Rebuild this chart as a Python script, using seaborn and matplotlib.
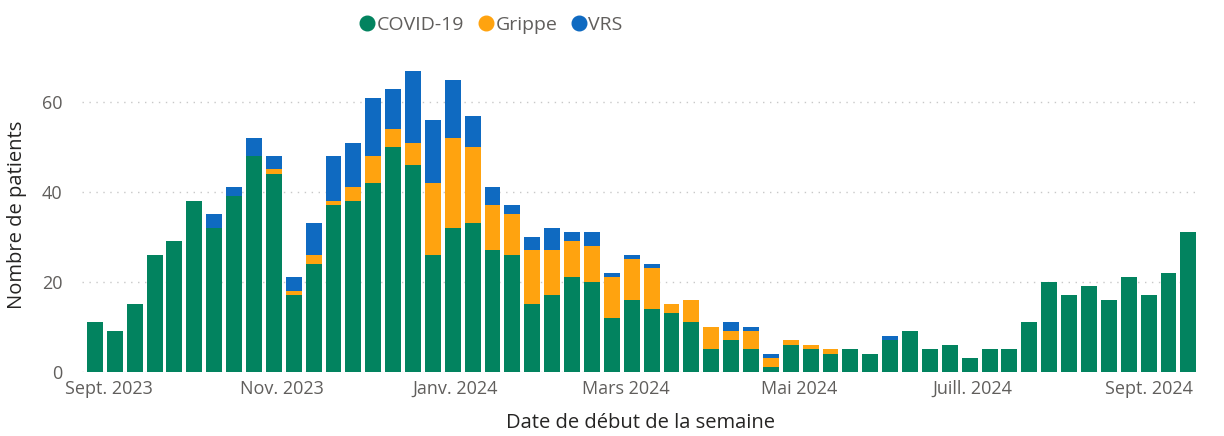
import pandas as pd
import numpy as np
import matplotlib
matplotlib.use('Agg')
import matplotlib.pyplot as plt
from matplotlib.lines import Line2D
import seaborn as sns

# --- Données (patients par semaine, lecture du graphique) ---
debut = "2023-08-27"
nb_semaines = 56
covid = [11, 9, 15, 26, 29, 38, 32, 39, 48, 44, 17, 24, 37, 38, 42, 50, 46, 26, 32, 33,
         27, 26, 15, 17, 21, 20, 12, 16, 14, 13, 11, 5, 7, 5, 1, 6, 5, 4, 5, 4,
         7, 9, 5, 6, 3, 5, 5, 11, 20, 17, 19, 16, 21, 17, 22, 31]
grippe = [0, 0, 0, 0, 0, 0, 0, 0, 0, 1, 1, 2, 1, 3, 6, 4, 5, 16, 20, 17,
          10, 9, 12, 10, 8, 8, 9, 9, 9, 2, 5, 5, 2, 4, 2, 1, 1, 1, 0, 0,
          0, 0, 0, 0, 0, 0, 0, 0, 0, 0, 0, 0, 0, 0, 0, 0]
vrs = [0, 0, 0, 0, 0, 0, 3, 2, 4, 3, 3, 7, 10, 10, 13, 9, 16, 14, 13, 7,
       4, 2, 3, 5, 2, 3, 1, 1, 1, 0, 0, 0, 2, 1, 1, 0, 0, 0, 0, 0,
       1, 0, 0, 0, 0, 0, 0, 0, 0, 0, 0, 0, 0, 0, 0, 0]
mois_ticks = ["2023-09-01", "2023-11-01", "2024-01-01", "2024-03-01",
              "2024-05-01", "2024-07-01", "2024-09-01"]
mois_labels = ["Sept. 2023", "Nov. 2023", "Janv. 2024", "Mars 2024",
               "Mai 2024", "Juill. 2024", "Sept. 2024"]

semaines = pd.date_range(debut, periods=nb_semaines, freq="7D")
df = pd.DataFrame({"semaine": semaines.strftime("%Y-%m-%d"),
                   "covid": covid, "grippe": grippe, "vrs": vrs})
df["cg"] = df["covid"] + df["grippe"]
df["total"] = df["cg"] + df["vrs"]

VERT, ORANGE, BLEU = "#02835F", "#FFA30F", "#0F6AC1"
GRIS_TXT, FONCE = "#605E5C", "#252423"

sns.set_theme(style="white")
plt.rcParams['font.family'] = ['Open Sans', 'DejaVu Sans']

fig = plt.figure(figsize=(12.24, 4.36), dpi=100)
ax = fig.add_axes([0.067, 0.1475, 0.912, 0.7215])

# empilement : total (bleu), covid+grippe (orange), covid (vert)
for col, couleur in [("total", BLEU), ("cg", ORANGE), ("covid", VERT)]:
    sns.barplot(data=df, x="semaine", y=col, color=couleur, saturation=1,
                width=0.8, linewidth=0, ax=ax, zorder=3)

ax.set_ylim(0, 70)
ax.set_xlim(-0.65, nb_semaines - 0.5)
ax.set_yticks([0, 20, 40, 60])
ax.yaxis.grid(True, linestyle=(0, (1, 4)), color="#C8C8C8", linewidth=1, zorder=0)
ax.set_axisbelow(True)
sns.despine(ax=ax, left=True, bottom=True)

pos = [(pd.Timestamp(d) - semaines[0]).days / 7 for d in mois_ticks]
ax.set_xticks(pos, mois_labels)
ax.tick_params(axis='both', length=0, labelsize=13, labelcolor=GRIS_TXT)
ax.tick_params(axis='x', pad=6)
ax.tick_params(axis='y', pad=14)

ax.set_xlabel("Date de début de la semaine", fontsize=14.5, color=FONCE, labelpad=11)
ax.set_ylabel("Nombre de patients", fontsize=14.5, color=FONCE, labelpad=11)

poignees = [Line2D([], [], marker='o', linestyle='', markersize=10.5, color=c)
            for c in (VERT, ORANGE, BLEU)]
fig.legend(poignees, ["COVID-19", "Grippe", "VRS"], loc='center',
           bbox_to_anchor=(490 / 1224, 1 - 25 / 436), ncol=3, frameon=False,
           fontsize=14, labelcolor=GRIS_TXT, handletextpad=0.0,
           columnspacing=0.6, handlelength=1.0)

fig.savefig("out.png", dpi=100)
plt.close(fig)
